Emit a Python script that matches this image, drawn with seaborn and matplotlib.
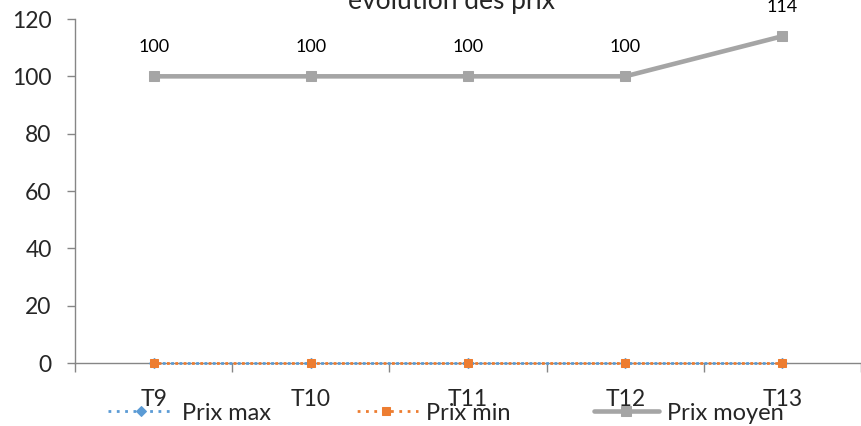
import matplotlib
matplotlib.use("Agg")
import matplotlib.pyplot as plt
import seaborn as sns
import pandas as pd

categories = ["T9", "T10", "T11", "T12", "T13"]
prix_max = [0, 0, 0, 0, 0]
prix_min = [0, 0, 0, 0, 0]
prix_moyen = [100, 100, 100, 100, 114]

sns.set_theme(style="white")
plt.rcParams['font.family'] = ['Lato', 'DejaVu Sans']

df = pd.DataFrame({"cat": categories, "Prix max": prix_max,
                   "Prix min": prix_min, "Prix moyen": prix_moyen})
df["x"] = range(len(categories))

W, H = 861, 426
fig = plt.figure(figsize=(W / 100, H / 100), dpi=100)
ax = fig.add_axes([75 / W, 1 - 363 / H, 1 - 75 / W, (363 - 19) / H])

sns.lineplot(data=df, x="x", y="Prix max", ax=ax, color="#5B9BD5", linestyle=(0, (1, 2)),
             linewidth=2, marker="D", markersize=5, markeredgecolor="#5B9BD5",
             label="Prix max", clip_on=False, zorder=3)
sns.lineplot(data=df, x="x", y="Prix min", ax=ax, color="#ED7D31", linestyle=(1.5, (1, 2)),
             linewidth=2, marker="s", markersize=6, markeredgecolor="#ED7D31",
             label="Prix min", clip_on=False, zorder=4)
sns.lineplot(data=df, x="x", y="Prix moyen", ax=ax, color="#A5A5A5", linewidth=3.3,
             marker="s", markersize=7.5, markeredgecolor="#A5A5A5",
             label="Prix moyen", clip_on=False, zorder=5)

for xi, v in zip(df["x"], prix_moyen):
    ax.annotate(f"{v}", (xi, v), xytext=(0, 15.5), textcoords="offset points",
                ha="center", va="bottom", fontsize=13, color="black", annotation_clip=False)

ax.set_xlim(-0.5, len(categories) - 0.5)
ax.set_ylim(0, 120)
ax.set_yticks(range(0, 121, 20))
ax.set_xticks(range(len(categories)))
ax.set_xticklabels(categories)
ax.set_xticks([i - 0.5 for i in range(len(categories) + 1)], minor=True)
ax.set_xlabel("")
ax.set_ylabel("")
ax.tick_params(axis="x", which="major", length=0, pad=19, labelsize=16.5)
ax.tick_params(axis="x", which="minor", length=6.5, width=1, color="#868686", direction="out", bottom=True)
ax.tick_params(axis="y", length=5.8, width=1, color="#868686", direction="out", left=True, labelsize=16.5, pad=11)
for s in ["top", "right"]:
    ax.spines[s].set_visible(False)
for s in ["left", "bottom"]:
    ax.spines[s].set_color("#868686")
    ax.spines[s].set_linewidth(1)

fig.text(452 / W, 1 - 9 / H, "évolution des prix", fontsize=19, ha="center", va="baseline")

ax.legend_.remove()
h, l = ax.get_legend_handles_labels()
fig.legend(h, l, loc="center", ncol=3, frameon=False, fontsize=17,
           bbox_to_anchor=(446 / W, 1 - 413 / H), handlelength=2.75, columnspacing=3.5,
           handletextpad=0.35, borderpad=0, borderaxespad=0)

fig.savefig("out.png", dpi=100)
